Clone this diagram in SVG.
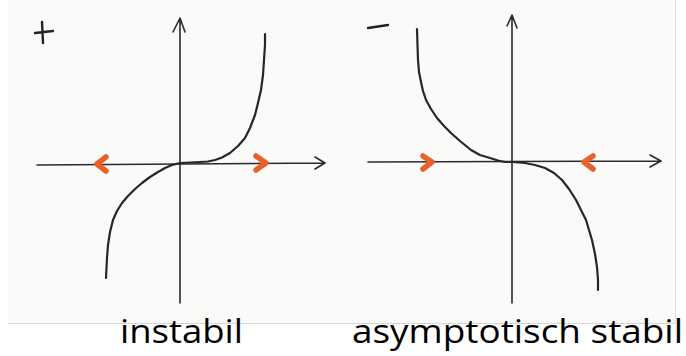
<svg xmlns="http://www.w3.org/2000/svg" width="686" height="356" viewBox="0 0 686 356">
  <style>
    .axis { fill: none; stroke: #2a2a30; stroke-width: 1.6; stroke-linecap: round; stroke-linejoin: round; }
    .curve { fill: none; stroke: #25252e; stroke-width: 2.2; stroke-linecap: round; stroke-linejoin: round; }
    .flow { fill: none; stroke: #e8602c; stroke-width: 5.5; stroke-linecap: round; stroke-linejoin: round; }
    .sign { fill: none; stroke: #222; stroke-width: 2.4; stroke-linecap: round; }
    .label { font-family: "Open Sans", "Liberation Sans", sans-serif; font-size: 32px; fill: #000; }
  </style>
  <rect x="0" y="0" width="686" height="356" fill="#ffffff"/>
  <rect x="8" y="0" width="667" height="323.5" fill="#fafaf8"/>
  <line x1="8" y1="323.5" x2="675" y2="323.5" stroke="#d6d6d6" stroke-width="1"/>
  <line x1="675.5" y1="0" x2="675.5" y2="323.5" stroke="#e2e2e2" stroke-width="1"/>

  <g id="panel-instabil">
    <path class="sign" d="M35,33 L53,31 M42,22 L43,43"/>
    <g id="axes-left">
      <path class="axis" d="M180,303 L180,18 M173,32 L180,18 L185,32"/>
      <path class="axis" d="M37,165 L325,163 M315,157 L325,163 L315,169"/>
    </g>
    <polyline class="curve" points="106,278 107,258 108,245 110,232 113,220 117,211 122,203 128,196 135,189 142,183 150,177 158,172 165,168 172,165 180,163 190,162.5 200,162 208,161.5 215,160 222,157.5 230,153 238,146 245,138 250,128 255,115 258,103 261,90 263,75 264,60 265,45 265,34"/>
    <path class="flow" d="M106,157 L97,164 L106,171"/>
    <path class="flow" d="M256,156 L266,163 L256,170"/>
  </g>

  <g id="panel-stabil">
    <path class="sign" d="M368,28 L388,25"/>
    <g id="axes-right">
      <path class="axis" d="M512,303 L512,15 M507,26 L512,15 L517,28"/>
      <path class="axis" d="M368,162 L661,161 M650,155 L661,161 L650,167"/>
    </g>
    <polyline class="curve" points="417,29 417.5,45 418,60 419,72 421,82 423,91 426,100 431,109 437,118 444,126 451,133 460,141 471,150 480,155 490,158 498,160.5 505,162 513,162 525,163 535,165 545,168 554,173 562,180 569,189 576,200 581,210 586,220 589,230 592,240 595,254 597,267 598,280 598,290"/>
    <path class="flow" d="M423,156 L432,162 L423,169"/>
    <path class="flow" d="M593,156 L584,162 L593,169"/>
  </g>

  <g id="labels">
    <text class="label" x="120" y="343" textLength="123" lengthAdjust="spacingAndGlyphs">instabil</text>
    <text class="label" x="352" y="343" textLength="331" lengthAdjust="spacingAndGlyphs">asymptotisch stabil</text>
  </g>
</svg>
